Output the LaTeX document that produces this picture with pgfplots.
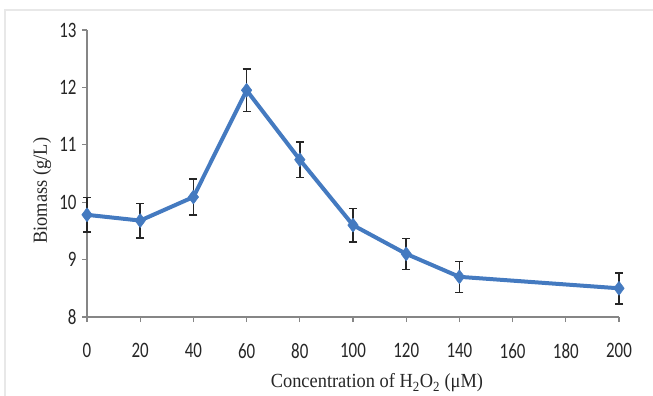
\documentclass[border=0pt]{standalone}
\usepackage{fontspec}
\setmainfont{Liberation Serif}
\newfontfamily\labelfont[FakeStretch=0.92]{Liberation Serif}
\newfontfamily\tickfont[FakeStretch=0.77]{Carlito}
\usepackage{pgfplots}
\pgfplotsset{compat=1.18}
\usepackage{pgfplotstable}
\definecolor{serblue}{RGB}{68,122,192}
\definecolor{axgray}{RGB}{134,134,134}
\definecolor{framegray}{RGB}{232,232,232}
\pgfplotstableread{
x y e
0 9.78 0.30
1 9.68 0.30
2 10.09 0.31
3 11.95 0.37
4 10.74 0.31
5 9.60 0.29
6 9.10 0.27
7 8.70 0.27
10 8.50 0.27
}\biomass
\begin{document}
\begin{tikzpicture}
\useasboundingbox (-87bp,-79bp) rectangle (566bp,317bp);
\draw[framegray, line width=1.5bp] (-82bp,-80bp) -- (-82bp,307bp) -- (567bp,307bp);
\begin{axis}[
  scale only axis, width=532bp, height=287bp,
  at={(0,0)}, anchor=south west,
  xmin=0, xmax=10, ymin=8, ymax=13,
  axis x line*=bottom, axis y line*=left,
  xtick={0,1,2,3,4,5,6,7,8,9,10},
  xticklabels={0,20,40,60,80,100,120,140,160,180,200},
  ytick={8,9,10,11,12,13},
  tick align=outside, major tick length=5bp,
  axis line style={axgray, line width=1.2bp},
  tick style={axgray, line width=1.2bp},
  /pgf/number format/assume math mode=true,
  tick label style={font=\tickfont\fontsize{22bp}{22bp}\selectfont, text=black!85},
  xticklabel style={yshift=-18bp},
  yticklabel style={xshift=-2bp},
  xlabel={Concentration of H\textsubscript{2}O\textsubscript{2} (μM)},
  ylabel={Biomass (g/L)},
  label style={font=\labelfont\fontsize{20bp}{20bp}\selectfont, text=black!85},
  xlabel style={at={(axis description cs:0.545,-0.23)}, anchor=center},
  ylabel style={at={(axis description cs:-0.0846,0.44)}, anchor=center},
  clip=false,
]
\addplot[serblue, line width=4bp, line join=round,
  mark=diamond*, mark size=7bp, mark options={fill=serblue, draw=serblue, line width=0.5bp},
  error bars/.cd, y dir=both, y explicit,
  error bar style={black!85, line width=1.5bp},
  error mark options={rotate=90, mark size=4bp, black!85, line width=1.5bp}]
  table[x=x, y=y, y error=e] {\biomass};
\end{axis}
\end{tikzpicture}
\end{document}
